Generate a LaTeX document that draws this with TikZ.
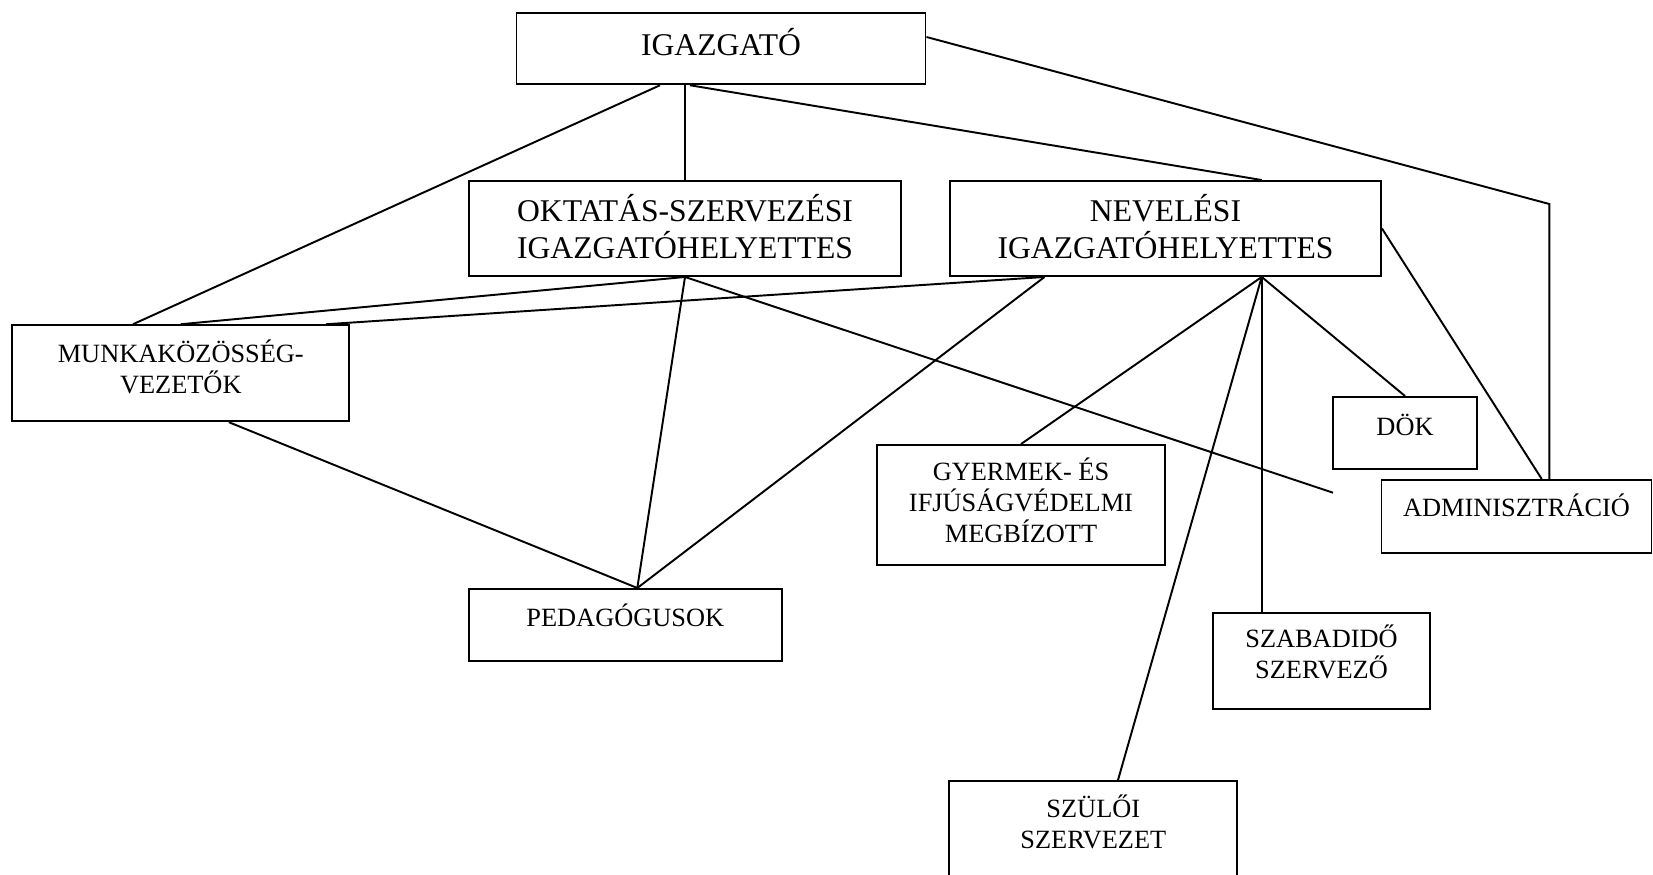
\documentclass[tikz,border=0pt]{standalone}
\usepackage{fontspec}
\setmainfont{Liberation Serif}
\begin{document}
\begin{tikzpicture}[x=0.1mm,y=-0.1mm,line width=0.55pt,
  box/.style={draw,inner sep=0pt,align=center},
  big/.style={font=\fontsize{9}{10.5}\selectfont},
  small/.style={font=\fontsize{7.5}{8.8}\selectfont},
  lift/.style={execute at end node={\rule[-#1]{0pt}{#1}}}]
\useasboundingbox (0,0) rectangle (1653,874);
\clip (0,0) rectangle (1653,874);
% vezetes
\node[box,big,lift=3.8pt,minimum width=40.9mm,minimum height=7.16mm] (igaz) at (721,48.5) {IGAZGATÓ};
\node[box,big,lift=1.2pt,minimum width=43.2mm,minimum height=9.5mm] (okt) at (685,228.5) {OKTATÁS-SZERVEZÉSI\\IGAZGATÓHELYETTES};
\node[box,big,lift=1.2pt,minimum width=43.1mm,minimum height=9.5mm] (nev) at (1165.5,228.5) {NEVELÉSI\\IGAZGATÓHELYETTES};
% tobbiek
\node[box,small,lift=3.7pt,minimum width=33.7mm,minimum height=9.6mm] (munka) at (180.8,373.2) {MUNKAKÖZÖSSÉG-\\VEZETŐK};
\node[box,small,lift=5.5pt,minimum width=31.25mm,minimum height=7.17mm] (pedag) at (625.3,624.8) {PEDAGÓGUSOK};
\node[box,small,lift=2.7pt,minimum width=28.8mm,minimum height=12mm] (gyermek) at (1021,505) {GYERMEK- ÉS\\IFJÚSÁGVÉDELMI\\MEGBÍZOTT};
\node[box,small,lift=4.6pt,minimum width=14.4mm,minimum height=7.2mm] (dok) at (1405,433) {DÖK};
\node[box,small,lift=6.1pt,minimum width=27mm,minimum height=7.27mm] (admin) at (1516.5,516.3) {ADMINISZTRÁCIÓ};
\node[box,small,lift=5.5pt,minimum width=21.7mm,minimum height=9.63mm] (szabad) at (1321.5,661) {SZABADIDŐ\\SZERVEZŐ};
\node[box,small,lift=4.4pt,minimum width=28.8mm,minimum height=9.6mm] (szuloi) at (1093.3,829) {SZÜLŐI\\SZERVEZET};
% pontok
\coordinate (bend) at (1549.3,204);
\coordinate (hub) at ([shift={(96.2,0)}]nev.south);
\coordinate (pedtop) at ([shift={(12,0)}]pedag.north);
\coordinate (oktend) at (1333,492.7);
% vonalak
\draw ([shift={(-61,0)}]igaz.south)--([shift={(-47.8,0)}]munka.north);
\draw (okt.north)--(okt.north |- igaz.south);
\draw ([shift={(-31,0)}]igaz.south)--([shift={(96.2,0)}]nev.north);
\draw ([shift={(0,-11.5)}]igaz.east)--(bend)--(bend |- admin.north);
\draw (nev.east)--([shift={(25.2,0)}]admin.north);
\draw (okt.south)--(munka.north);
\draw (okt.south)--(pedtop);
\draw (okt.south)--(oktend);
\draw ([shift={(-121,0)}]nev.south)--([shift={(-24,0)}]munka.north east);
\draw ([shift={(-121,0)}]nev.south)--(pedtop);
\draw ([shift={(48,0)}]munka.south)--(pedtop);
\draw (hub)--(gyermek.north);
\draw (hub)--([shift={(24.7,0)}]szuloi.north);
\draw (hub)--(hub |- szabad.north);
\draw (hub)--(dok.north);
\end{tikzpicture}
\end{document}
